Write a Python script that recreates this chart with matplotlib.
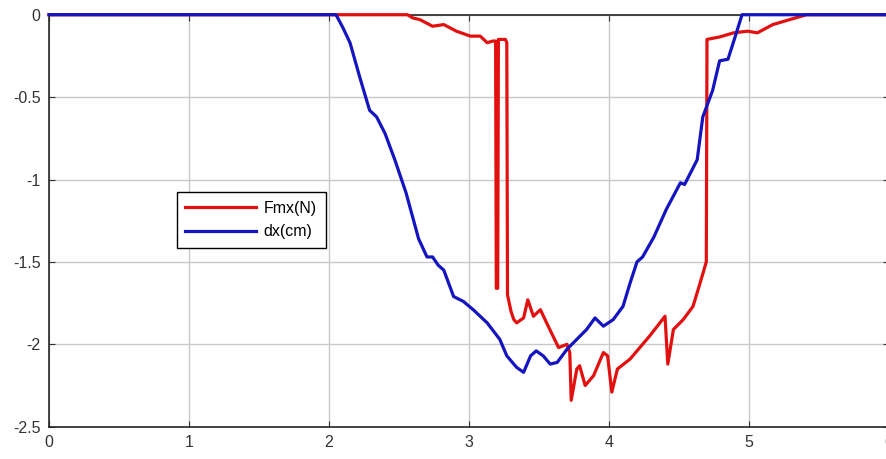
import numpy as np
import matplotlib.pyplot as plt

plt.rcParams['font.family'] = ['Liberation Sans', 'DejaVu Sans']

# dx(cm) - displacement
dx_t = [0.0, 2.05, 2.1, 2.15, 2.22, 2.29, 2.34, 2.4, 2.47, 2.55, 2.64, 2.7, 2.74, 2.78,
        2.82, 2.89, 2.96, 3.03, 3.13, 3.22, 3.27, 3.34, 3.39, 3.44, 3.48, 3.53, 3.58,
        3.63, 3.7, 3.77, 3.84, 3.9, 3.96, 4.03, 4.1, 4.15, 4.2, 4.24, 4.32, 4.41,
        4.51, 4.54, 4.63, 4.67, 4.74, 4.79, 4.85, 4.91, 4.95, 6.0]
dx_v = [0.0, 0.0, -0.08, -0.17, -0.38, -0.58, -0.62, -0.72, -0.88, -1.08, -1.36, -1.47,
        -1.47, -1.52, -1.55, -1.71, -1.74, -1.79, -1.87, -1.97, -2.07, -2.14, -2.17,
        -2.07, -2.04, -2.07, -2.12, -2.11, -2.03, -1.97, -1.91, -1.84, -1.89, -1.85,
        -1.77, -1.63, -1.5, -1.47, -1.35, -1.18, -1.02, -1.03, -0.88, -0.62, -0.46,
        -0.28, -0.27, -0.11, 0.0, 0.0]

# Fmx(N) - force
f_t = [0.0, 2.56, 2.6, 2.65, 2.74, 2.82, 2.91, 3.01, 3.08, 3.13, 3.17, 3.19, 3.195,
       3.205, 3.21, 3.24, 3.26, 3.27, 3.275, 3.3, 3.32, 3.34, 3.39, 3.42, 3.46, 3.51,
       3.56, 3.6, 3.64, 3.7, 3.72, 3.73, 3.77, 3.79, 3.83, 3.89, 3.96, 3.99, 4.02,
       4.06, 4.15, 4.29, 4.4, 4.42, 4.46, 4.53, 4.6, 4.65, 4.695, 4.7, 4.79, 4.89,
       4.99, 5.06, 5.17, 5.29, 5.41, 6.0]
f_v = [0.0, 0.0, -0.02, -0.03, -0.07, -0.06, -0.1, -0.13, -0.13, -0.17, -0.16, -0.16,
       -1.66, -1.66, -0.15, -0.15, -0.15, -0.17, -1.7, -1.8, -1.85, -1.87, -1.84,
       -1.73, -1.83, -1.79, -1.88, -1.95, -2.02, -2.0, -2.05, -2.34, -2.15, -2.13,
       -2.25, -2.19, -2.05, -2.07, -2.29, -2.15, -2.09, -1.95, -1.83, -2.12, -1.91,
       -1.85, -1.77, -1.63, -1.5, -0.15, -0.135, -0.11, -0.1, -0.11, -0.06, -0.03,
       0.0, 0.0]

fig = plt.figure(figsize=(8.86, 4.59), dpi=100)
ax = fig.add_axes([49 / 886, 32.3 / 459, 840 / 886, 412 / 459])

ax.plot(f_t, f_v, color='#e31010', lw=2.3, label='Fmx(N)', clip_on=False, zorder=3)
ax.plot(dx_t, dx_v, color='#1414c0', lw=2.3, label='dx(cm)', clip_on=False, zorder=4)

ax.set_xlim(0, 6)
ax.set_ylim(-2.5, 0)
ax.set_xticks([0, 1, 2, 3, 4, 5, 6])
ax.set_yticks([-2.5, -2, -1.5, -1, -0.5, 0])
ax.set_yticklabels(['-2.5', '-2', '-1.5', '-1', '-0.5', '0'])
ax.grid(True, color='#c8c8c8', lw=1)
ax.tick_params(direction='in', top=True, right=True, length=4, labelsize=11.5,
               colors='#333333', pad=6)
for s in ax.spines.values():
    s.set_color('#262626')
    s.set_linewidth(1.2)

leg = ax.legend(loc='upper left', bbox_to_anchor=(0.152, 0.57), fancybox=False,
                edgecolor='black', framealpha=1, fontsize=11.5, handlelength=4.4,
                handletextpad=0.5, borderpad=0.55, labelspacing=0.55,
                borderaxespad=0)
leg.get_frame().set_linewidth(1)

fig.savefig('out.png', dpi=100)
